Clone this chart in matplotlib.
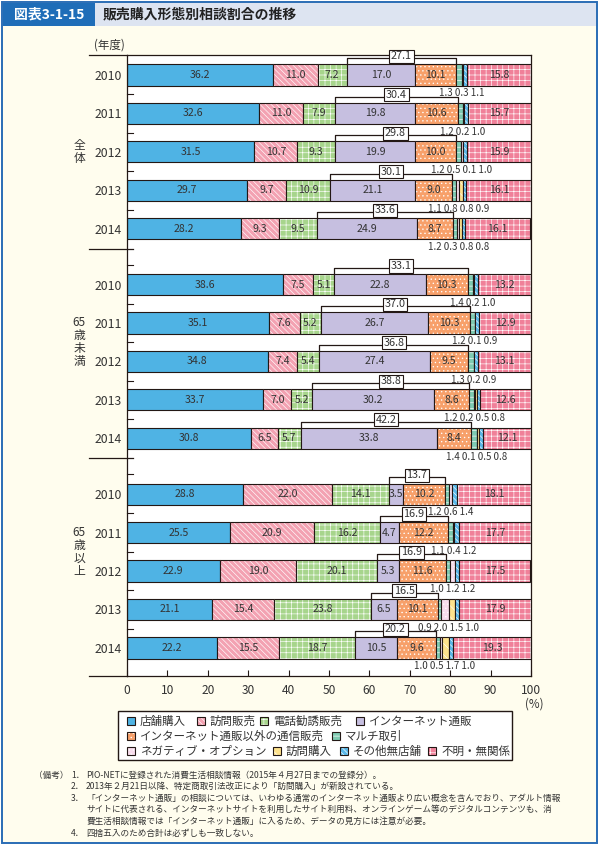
import matplotlib

matplotlib.use("Agg")

import matplotlib.pyplot as plt  # noqa: E402
from matplotlib.patches import Rectangle  # noqa: E402

plt.rcParams["font.family"] = ["Noto Sans CJK JP", "DejaVu Sans"]
plt.rcParams["hatch.linewidth"] = 0.45

# ---------------------------------------------------------------------------
# Data (percent of consultations, by purchase / sales channel)
# ---------------------------------------------------------------------------
CATEGORIES = [
    "店舗購入", "訪問販売", "電話勧誘販売", "インターネット通販",
    "インターネット通販以外の通信販売", "マルチ取引",
    "ネガティブ・オプション", "訪問購入", "その他無店舗", "不明・無関係",
]
YEARS = ["2010", "2011", "2012", "2013", "2014"]
GROUP_LABELS = ["全\n体", "65\n歳\n未\n満", "65\n歳\n以\n上"]

# one row per fiscal year; None = category did not exist yet
SHARE_ALL = [
    [36.2, 11.0, 7.2, 17.0, 10.1, 1.3, 0.3, None, 1.1, 15.8],
    [32.6, 11.0, 7.9, 19.8, 10.6, 1.2, 0.2, None, 1.0, 15.7],
    [31.5, 10.7, 9.3, 19.9, 10.0, 1.2, 0.5, 0.1, 1.0, 15.9],
    [29.7, 9.7, 10.9, 21.1, 9.0, 1.1, 0.8, 0.8, 0.9, 16.1],
    [28.2, 9.3, 9.5, 24.9, 8.7, 1.2, 0.3, 0.8, 0.8, 16.1],
]
SHARE_UNDER65 = [
    [38.6, 7.5, 5.1, 22.8, 10.3, 1.4, 0.2, None, 1.0, 13.2],
    [35.1, 7.6, 5.2, 26.7, 10.3, 1.2, 0.1, None, 0.9, 12.9],
    [34.8, 7.4, 5.4, 27.4, 9.5, 1.3, 0.2, 0.0, 0.9, 13.1],
    [33.7, 7.0, 5.2, 30.2, 8.6, 1.2, 0.2, 0.5, 0.8, 12.6],
    [30.8, 6.5, 5.7, 33.8, 8.4, 1.4, 0.1, 0.5, 0.8, 12.1],
]
SHARE_65PLUS = [
    [28.8, 22.0, 14.1, 3.5, 10.2, 1.2, 0.6, None, 1.4, 18.1],
    [25.5, 20.9, 16.2, 4.7, 12.2, 1.1, 0.4, None, 1.2, 17.7],
    [22.9, 19.0, 20.1, 5.3, 11.6, 1.0, 1.2, 0.0, 1.2, 17.5],
    [21.1, 15.4, 23.8, 6.5, 10.1, 0.9, 2.0, 1.5, 1.0, 17.9],
    [22.2, 15.5, 18.7, 10.5, 9.6, 1.0, 0.5, 1.7, 1.0, 19.3],
]
# internet + other mail-order combined (bracket labels)
MAIL_TOTAL_ALL = [27.1, 30.4, 29.8, 30.1, 33.6]
MAIL_TOTAL_UNDER65 = [33.1, 37.0, 36.8, 38.8, 42.2]
MAIL_TOTAL_65PLUS = [13.7, 16.9, 16.9, 16.5, 20.2]

GROUP_SHARES = [SHARE_ALL, SHARE_UNDER65, SHARE_65PLUS]
GROUP_TOTALS = [MAIL_TOTAL_ALL, MAIL_TOTAL_UNDER65, MAIL_TOTAL_65PLUS]

NOTES = [
    ("1．", "PIO-NETに登録された消費生活相談情報（2015年４月27日までの登録分）。"),
    ("2．", "2013年２月21日以降、特定商取引法改正により「訪問購入」が新設されている。"),
    ("3．", "「インターネット通販」の相談については、いわゆる通常のインターネット通販より広い概念を含んでおり、アダルト情報"),
    ("", "サイトに代表される、インターネットサイトを利用したサイト利用料、オンラインゲーム等のデジタルコンテンツも、消"),
    ("", "費生活相談情報では「インターネット通販」に入るため、データの見方には注意が必要。"),
    ("4．", "四捨五入のため合計は必ずしも一致しない。"),
]

# ---------------------------------------------------------------------------
# Styling
# ---------------------------------------------------------------------------
# (face colour, hatch colour, hatch)
STYLES = [
    ("#4fb3e4", None, None),
    ("#f3a2b2", "white", "\\\\\\\\\\\\"),
    ("#a7d58c", "white", "+++"),
    ("#c6bfe0", None, None),
    ("#f7a06a", "white", "...."),
    ("#7fcbb2", "white", "---"),
    ("#f7dcec", "white", "...."),
    ("#fde28c", "white", "\\\\\\"),
    ("#5ab9ea", "white", "\\\\\\\\\\\\"),
    ("#f08099", "white", "+++"),
]
LABELLED = [0, 1, 2, 3, 4, 9]
SMALL = [5, 6, 7, 8]
EDGE = "#231815"
TEXT = "#333333"

W, H = 600, 847
GROUP_STEP = 5.45
BAR_H = 0.55
Y_TOP, Y_BOTTOM = -0.52, 2 * GROUP_STEP + 4 + 0.73


def fx(px):
    return px / W


def fy(py):
    return 1 - py / H


def draw_segment(ax, y, left, width, k):
    face, hcolor, hatch = STYLES[k]
    ax.barh(y, width, left=left, height=BAR_H, color=face,
            edgecolor=hcolor if hcolor else "none", hatch=hatch, linewidth=0)
    ax.barh(y, width, left=left, height=BAR_H, fill=False,
            edgecolor=EDGE, linewidth=0.8)


fig = plt.figure(figsize=(6, 8.47), dpi=100)
fig.patch.set_facecolor("white")

# page frame and title band (kept behind the axes)
fig.add_artist(Rectangle((fx(2), fy(843)), fx(597) - fx(2), fy(2) - fy(843),
                         facecolor="#fffdee", edgecolor="#2a6db5", lw=1.4,
                         transform=fig.transFigure, zorder=-3))
fig.add_artist(Rectangle((fx(3), fy(26)), fx(596) - fx(3), fy(3) - fy(26),
                         facecolor="#dde4f1", edgecolor="none",
                         transform=fig.transFigure, zorder=-2))
fig.add_artist(Rectangle((fx(3), fy(26)), fx(95) - fx(3), fy(3) - fy(26),
                         facecolor="#1f6db8", edgecolor="none",
                         transform=fig.transFigure, zorder=-2))
fig.text(fx(49), fy(14.5), "図表3-1-15", color="white", fontsize=10,
         fontweight="bold", ha="center", va="center")
fig.text(fx(103), fy(14.5), "販売購入形態別相談割合の推移", color="#222222",
         fontsize=10, fontweight="bold", ha="left", va="center")

# ---------------------------------------------------------------------------
# Stacked bars
# ---------------------------------------------------------------------------
ax = fig.add_axes([fx(127), fy(676), fx(531) - fx(127), fy(55) - fy(676)])
ax.set_facecolor("white")

ys, ylabels = [], []
for g, (shares, totals) in enumerate(zip(GROUP_SHARES, GROUP_TOTALS)):
    for i, row in enumerate(shares):
        y = g * GROUP_STEP + i
        ys.append(y)
        ylabels.append(YEARS[i])
        vals = [v if v is not None else 0.0 for v in row]
        lefts = [sum(vals[:k]) for k in range(len(vals))]
        for k, v in enumerate(vals):
            if v <= 0:
                continue
            draw_segment(ax, y, lefts[k], v, k)
            if k in LABELLED:
                ax.text(lefts[k] + v / 2, y, f"{v:.1f}", ha="center",
                        va="center", fontsize=7.6, color=TEXT)

        # small categories labelled underneath
        small = [f"{vals[k]:.1f}" for k in SMALL if vals[k] > 0]
        sx = (lefts[5] + lefts[9]) / 2
        ax.text(sx, y + BAR_H / 2 + 0.2, " ".join(small), ha="center",
                va="center", fontsize=7, color=TEXT)

        # bracket over the two mail-order categories
        x0, x1 = lefts[3], lefts[5]
        top = y - BAR_H / 2
        yb = top - 0.16
        ax.plot([x0, x0, x1, x1], [top, yb, yb, top], color=EDGE, lw=0.9,
                clip_on=False, zorder=4)
        ax.text((x0 + x1) / 2, yb - 0.05, f"{totals[i]:.1f}", ha="center",
                va="center", fontsize=7.8, color=TEXT, zorder=5,
                bbox=dict(boxstyle="square,pad=0.15", fc="white", ec=EDGE,
                          lw=0.8))

    ax.text(-0.118, g * GROUP_STEP + (2 if g == 0 else 1.5), GROUP_LABELS[g],
            transform=ax.get_yaxis_transform(), ha="center", va="center",
            fontsize=8.5, color=TEXT, linespacing=1.0)

# inner ticks between bars
ytrans = ax.get_yaxis_transform()
for g in range(3):
    base = g * GROUP_STEP
    marks = [base + i + 0.5 for i in range(4)]
    if g > 0:
        marks.append(base - 0.52)
    for m in marks:
        ax.plot([0, 0.015], [m, m], color=EDGE, lw=0.8, transform=ytrans,
                clip_on=False)
# long separators reaching out to the year column
for m in [Y_TOP, 4.52, GROUP_STEP + 4.52, Y_BOTTOM]:
    ax.plot([-0.094, 0.015 if Y_TOP < m < Y_BOTTOM else 0], [m, m],
            color=EDGE, lw=0.9, transform=ytrans, clip_on=False)

ax.set_xlim(0, 100)
ax.set_ylim(Y_BOTTOM, Y_TOP)
ax.set_yticks(ys, ylabels)
ax.tick_params(axis="y", length=0, pad=4, labelsize=8.8, labelcolor=TEXT)
ax.set_xticks(range(0, 101, 10))
ax.tick_params(axis="x", direction="in", length=4, width=0.8, pad=6,
               labelsize=8.6, labelcolor=TEXT, color=EDGE)
for spine in ax.spines.values():
    spine.set_color(EDGE)
    spine.set_linewidth(0.9)

fig.text(fx(109), fy(45), "(年度)", fontsize=8.3, color=TEXT, ha="center",
         va="center")
fig.text(fx(534), fy(704), "(%)", fontsize=8.3, color=TEXT, ha="center",
         va="center")

# ---------------------------------------------------------------------------
# Legend (hand-placed, three uneven rows)
# ---------------------------------------------------------------------------
fig.add_artist(Rectangle((fx(118), fy(760)), fx(512) - fx(118), fy(711) - fy(760),
                         facecolor="white", edgecolor=EDGE, lw=1.0,
                         transform=fig.transFigure))
LEGEND_SLOTS = [
    (0, 127, 721), (1, 197, 721), (2, 260, 721), (3, 356, 721),
    (4, 127, 736), (5, 332, 736),
    (6, 127, 751), (7, 273, 751), (8, 340, 751), (9, 428, 751),
]
for k, px, py in LEGEND_SLOTS:
    face, hcolor, hatch = STYLES[k]
    fig.add_artist(Rectangle((fx(px), fy(py + 4)), 8 / W, 8 / H,
                             facecolor=face,
                             edgecolor=hcolor if hcolor else "none",
                             hatch=hatch, lw=0, transform=fig.transFigure))
    fig.add_artist(Rectangle((fx(px), fy(py + 4)), 8 / W, 8 / H, fill=False,
                             edgecolor=EDGE, lw=0.8, transform=fig.transFigure))
    fig.text(fx(px + 13), fy(py), CATEGORIES[k], fontsize=8.3, color=TEXT,
             ha="left", va="center")

# ---------------------------------------------------------------------------
# Notes
# ---------------------------------------------------------------------------
fig.text(fx(34), fy(775), "（備考）", fontsize=6.2, color=TEXT, ha="left",
         va="center")
for j, (num, line) in enumerate(NOTES):
    yy = 775 + j * 11.6
    if num:
        fig.text(fx(71), fy(yy), num, fontsize=6.2, color=TEXT, ha="left",
                 va="center")
    fig.text(fx(86), fy(yy), line, fontsize=6.2, color=TEXT, ha="left",
             va="center")

fig.savefig("out.png", dpi=100, facecolor=fig.get_facecolor())
